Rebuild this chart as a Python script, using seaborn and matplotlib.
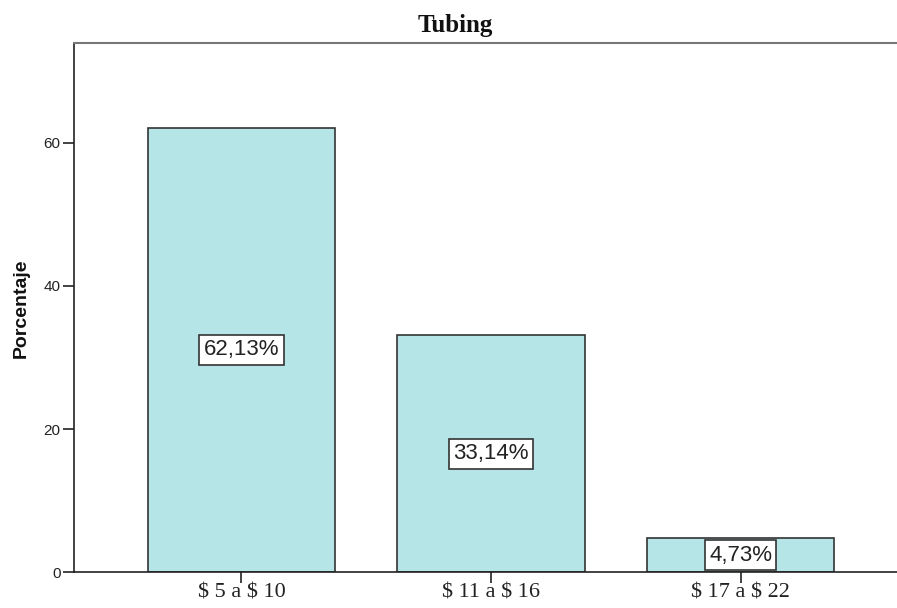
import matplotlib
matplotlib.use("Agg")
import matplotlib.pyplot as plt
import pandas as pd
import seaborn as sns

# data
categorias = ["$ 5 a $ 10", "$ 11 a $ 16", "$ 17 a $ 22"]
porcentaje = [62.13, 33.14, 4.73]
etiquetas = ["62,13%", "33,14%", "4,73%"]

df = pd.DataFrame({"precio": categorias, "pct": porcentaje})

sns.set_style("white")
plt.rcParams["text.parse_math"] = False  # dollar signs are literal

fig = plt.figure(figsize=(8.97, 6.08), dpi=100)
ax = fig.add_axes([0.083, 0.059, 0.917, 0.8695])

sns.barplot(data=df, x="precio", y="pct", ax=ax, color="#b5e5e7",
            saturation=1, width=0.75, edgecolor="#333333", linewidth=1.2)

for i, (v, t) in enumerate(zip(porcentaje, etiquetas)):
    ax.text(i, v / 2, t, ha="center", va="center", fontsize=16,
            family="Liberation Sans", color="#222222",
            bbox=dict(boxstyle="square,pad=0.2", fc="white", ec="#333333", lw=1.2))

ax.set_xlim(-0.669, 2.627)
ax.set_ylim(0, 73.9)
ax.set_yticks([0, 20, 40, 60])

ax.set_title("Tubing", fontsize=18, fontweight="bold", family="Liberation Serif",
             pad=8, color="#111111", x=0.4626)
ax.set_ylabel("Porcentaje", fontsize=14, fontweight="bold", family="Liberation Sans",
              labelpad=10, color="#111111")
ax.set_xlabel("")

for lab in ax.get_xticklabels():
    lab.set_family("Liberation Serif")
    lab.set_fontsize(16)
    lab.set_color("#222222")
for lab in ax.get_yticklabels():
    lab.set_family("Liberation Sans")
    lab.set_fontsize(11)
    lab.set_color("#222222")

ax.tick_params(axis="both", direction="out", length=8, width=1.2, color="#222222", pad=2,
               left=True, bottom=True)
ax.tick_params(axis="x", pad=0)

ax.spines["right"].set_visible(False)
for s in ["left", "bottom"]:
    ax.spines[s].set_color("#222222")
    ax.spines[s].set_linewidth(1.2)
ax.spines["top"].set_color("#777777")
ax.spines["top"].set_linewidth(1.5)

fig.savefig("out.png", dpi=100)
